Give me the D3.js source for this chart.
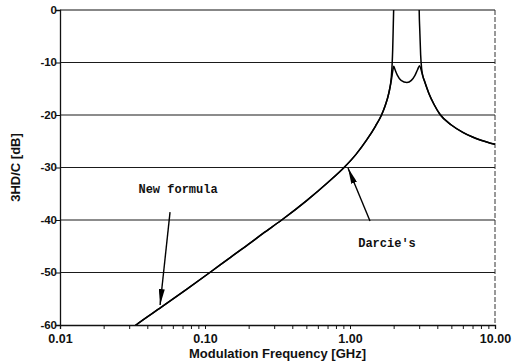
<!DOCTYPE html>
<html>
<head>
<meta charset="utf-8">
<script src="https://cdn.jsdelivr.net/npm/d3@7"></script>
<style>
  body { margin: 0; background: #fff; }
  svg { display: block; }
  .tick text { font-family: Arial, "Liberation Sans", sans-serif; font-weight: bold; fill: #111; }
  .note { font-family: "Liberation Mono", "DejaVu Sans Mono", monospace; font-weight: bold; font-size: 12px; fill: #111; }
  .title { font-family: Arial, "Liberation Sans", sans-serif; font-weight: bold; font-size: 13px; fill: #111; }
</style>
</head>
<body>
<div id="chart"></div>
<script>
const WIDTH = 513;
const HEIGHT = 364;
const MARGIN = { top: 10, right: 18, bottom: 39, left: 60 };

// shared low-frequency part (GHz, dB)
const baseFreq = [0.03, 0.0334, 0.05, 0.075, 0.108, 0.15, 0.2, 0.25, 0.338, 0.5, 0.7, 0.91, 1.1, 1.3, 1.5, 1.65, 1.75, 1.85];
const baseDb = [-61, -60, -56.6, -53.15, -50, -47.1, -44.6, -42.6, -40, -36.35, -32.9, -30, -27.5, -24.8, -22.1, -20, -18.2, -15.9];

// curve with finite resonance peaks
const finiteFreq = [1.93, 1.98, 2.0, 2.04, 2.12, 2.25, 2.47, 2.65, 2.8, 2.93, 3.02, 3.1, 3.18, 3.25, 3.5, 3.8, 4.18, 5, 6, 7, 8, 10];
const finiteDb = [-13.3, -11.3, -10.7, -11.3, -12.4, -13.4, -13.8, -13.4, -12.5, -11.3, -10.6, -11.5, -12.6, -13.4, -15.9, -18, -19.9, -21.9, -23.3, -24.2, -24.8, -25.6];

// curve with singular resonance peaks (goes off the top)
const spikeFreq = [1.93, 1.97, 1.99, 2.0, 2.01, 2.99, 3.0, 3.03, 3.07, 3.12, 3.18, 3.25, 3.5, 3.8, 4.18, 5, 6, 7, 8, 10];
const spikeDb = [-12.6, -7.5, -2.5, 0, 3, 3, 0, -4, -8.5, -11.2, -12.6, -13.4, -15.9, -18, -19.9, -21.9, -23.3, -24.2, -24.8, -25.6];

const xTicks = [0.01, 0.1, 1, 10];
const xTickLabels = ['0.01', '0.10', '1.00', '10.00'];
const yTicks = [0, -10, -20, -30, -40, -50, -60];
const gridValues = [-10, -20, -30, -40, -50];

// annotations [label, textF, textDb, tailF, tailDb, tipF, tipDb]
const notes = [
  ['New formula', 0.0652, -34.1, 0.0574, -38.5, 0.049, -56.2],
  ["Darcie's", 1.8, -44.4, 1.374, -40.2, 0.969, -30.1]
];

const w = WIDTH - MARGIN.left - MARGIN.right;
const h = HEIGHT - MARGIN.top - MARGIN.bottom;

const svg = d3.select('#chart').append('svg')
  .attr('width', WIDTH)
  .attr('height', HEIGHT)
  .style('background', '#fff');

svg.append('defs').append('clipPath').attr('id', 'plot-clip')
  .append('rect').attr('width', w).attr('height', h);

const g = svg.append('g')
  .attr('transform', 'translate(' + MARGIN.left + ',' + MARGIN.top + ')');

const x = d3.scaleLog().domain([0.01, 10]).range([0, w]);
const y = d3.scaleLinear().domain([-60, 0]).range([h, 0]);

// grid
g.selectAll('line.grid')
  .data(gridValues)
  .join('line')
  .attr('class', 'grid')
  .attr('x1', 0)
  .attr('x2', w)
  .attr('y1', (d) => y(d))
  .attr('y2', (d) => y(d))
  .attr('stroke', '#1a1a1a')
  .attr('stroke-width', 1.1);

// frame top & right
g.append('line').attr('x1', 0).attr('x2', w).attr('y1', 0).attr('y2', 0)
  .attr('stroke', '#111').attr('stroke-width', 1.2);
g.append('line').attr('x1', w).attr('x2', w).attr('y1', 0).attr('y2', h)
  .attr('stroke', '#333').attr('stroke-width', 1).attr('stroke-dasharray', '5,2');

// x axis
const minorTicks = [];
[0.01, 0.1, 1].forEach((d) => { for (let k = 1; k < 10; k++) minorTicks.push(d * k); });
minorTicks.push(10);
const xAxis = g.append('g')
  .attr('class', 'x axis')
  .attr('transform', 'translate(0,' + h + ')')
  .call(d3.axisBottom(x).tickValues(minorTicks).tickSize(4).tickFormat((d) => {
    const i = xTicks.findIndex((t) => Math.abs(t - d) < 1e-9);
    return i >= 0 ? xTickLabels[i] : '';
  }));
xAxis.select('.domain').attr('stroke', '#111').attr('stroke-width', 1.3);
xAxis.selectAll('.tick line').attr('stroke', '#111');
xAxis.selectAll('.tick text').attr('font-size', 12.5).attr('dy', '0.85em');

// y axis
const yAxis = g.append('g')
  .attr('class', 'y axis')
  .call(d3.axisLeft(y).tickValues(yTicks).tickSize(4).tickFormat((d) => String(d)));
yAxis.select('.domain').attr('stroke', '#111').attr('stroke-width', 1.3);
yAxis.selectAll('.tick line').attr('stroke', '#111');
yAxis.selectAll('.tick text').attr('font-size', 11.5).attr('x', -3).attr('dy', '0.3em');

// curves
const line = d3.line()
  .x((d) => x(d[0]))
  .y((d) => y(d[1]))
  .curve(d3.curveMonotoneX);

const basePts = baseFreq.map((f, i) => [f, baseDb[i]]);
const finitePts = basePts.concat(finiteFreq.map((f, i) => [f, finiteDb[i]]));
const spikePts = basePts.concat(spikeFreq.map((f, i) => [f, spikeDb[i]]));

const curves = g.append('g').attr('clip-path', 'url(#plot-clip)');
curves.selectAll('path.curve')
  .data([finitePts, spikePts])
  .join('path')
  .attr('class', 'curve')
  .attr('fill', 'none')
  .attr('stroke', '#000')
  .attr('stroke-width', 1.5)
  .attr('d', line);

// annotations
svg.append('defs').append('marker')
  .attr('id', 'arrow')
  .attr('viewBox', '0 0 16 6')
  .attr('refX', 16)
  .attr('refY', 3)
  .attr('markerWidth', 16)
  .attr('markerHeight', 6)
  .attr('markerUnits', 'userSpaceOnUse')
  .attr('orient', 'auto')
  .append('path')
  .attr('d', 'M0,0 L16,3 L0,6 Z')
  .attr('fill', '#000');

g.selectAll('line.arrow')
  .data(notes)
  .join('line')
  .attr('class', 'arrow')
  .attr('x1', (d) => x(d[3]))
  .attr('y1', (d) => y(d[4]))
  .attr('x2', (d) => x(d[5]))
  .attr('y2', (d) => y(d[6]))
  .attr('stroke', '#000')
  .attr('stroke-width', 1.4)
  .attr('marker-end', 'url(#arrow)');

g.selectAll('text.note')
  .data(notes)
  .join('text')
  .attr('class', 'note')
  .attr('x', (d) => x(d[1]))
  .attr('y', (d) => y(d[2]))
  .attr('dy', '0.35em')
  .style('text-anchor', 'middle')
  .text((d) => d[0]);

// axis titles
svg.append('text')
  .attr('class', 'title')
  .attr('x', MARGIN.left + w / 2)
  .attr('y', HEIGHT - 6)
  .style('text-anchor', 'middle')
  .text('Modulation Frequency [GHz]');

svg.append('text')
  .attr('class', 'title')
  .attr('transform', 'translate(20,' + (MARGIN.top + h / 2) + ') rotate(-90)')
  .style('text-anchor', 'middle')
  .text('3HD/C [dB]');
</script>
</body>
</html>
